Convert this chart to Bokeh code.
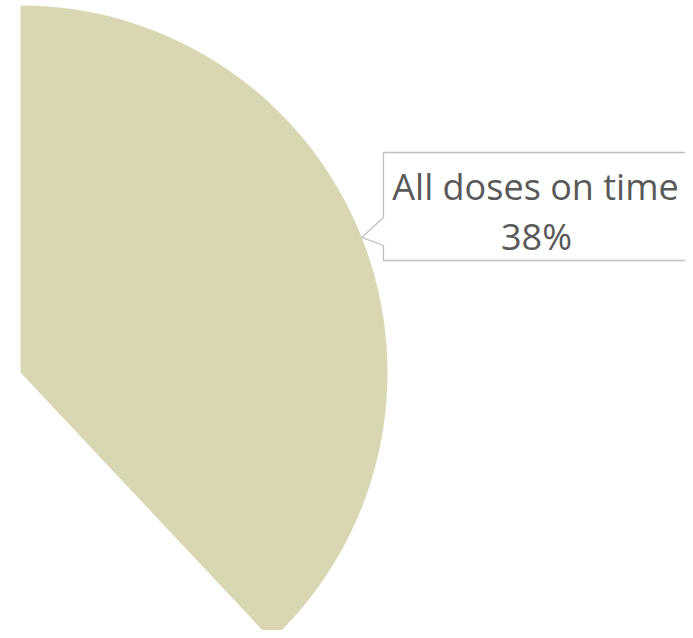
import numpy as np
from bokeh.plotting import figure
from bokeh.models import Range1d, ColumnDataSource
from bokeh.embed import file_html
from bokeh.resources import INLINE
from bokeh.core.properties import value

# ---- data ----
categories = ["All doses on time", "Other"]
shares = [38, 62]
slice_colors = ["#D9D7B1", "#FFFFFF"]
slice_alpha = [1.0, 0.0]
label_pct = ["38%", "62%"]

# ---- layout ----
W, H = 685, 630
p = figure(width=W, height=H, output_backend="svg", toolbar_location=None,
           x_range=Range1d(0, W), y_range=Range1d(0, H), min_border=0)
p.axis.visible = False
p.grid.visible = False
p.outline_line_color = None
p.background_fill_color = "white"
p.border_fill_color = "white"

cx, cy, r = 20, 258, 367
frac = np.array(shares, dtype=float) / sum(shares)
cum = np.concatenate([[0.0], np.cumsum(frac)])
starts = np.pi / 2 - 2 * np.pi * cum[:-1]
ends = np.pi / 2 - 2 * np.pi * cum[1:]

src = ColumnDataSource(dict(cat=categories, start=starts, end=ends,
                            color=slice_colors, alpha=slice_alpha,
                            x=[cx] * len(shares), y=[cy] * len(shares)))
p.wedge(x="x", y="y", radius=r, start_angle="start", end_angle="end",
        direction="clock", fill_color="color", fill_alpha="alpha",
        line_color=None, source=src)

# ---- callout for first slice ----
mid = np.pi / 2 - np.pi * frac[0]
tx, ty = cx + r * np.cos(mid), cy + r * np.sin(mid)
bx_l, bx_r, by_t, by_b = 383, 740, 478, 370
j_top, j_bot = 413, 385
xs = [bx_l, bx_r, bx_r, bx_l, bx_l, tx, bx_l]
ys = [by_t, by_t, by_b, by_b, j_bot, ty, j_top]
p.patch(xs, ys, fill_color="white", line_color="#BFBFBF", line_width=1.3)

txt_x = 535
p.text(x=[txt_x], y=[444.5], text=[categories[0]], text_align="center",
       text_baseline="alphabetic", text_font=value("Open Sans"),
       text_font_size="36px", text_color="#595959")
p.text(x=[txt_x + 1], y=[394.5], text=[label_pct[0]], text_align="center",
       text_baseline="alphabetic", text_font=value("Open Sans"),
       text_font_size="36px", text_color="#595959")

open("out.html", "w").write(file_html(p, INLINE))
